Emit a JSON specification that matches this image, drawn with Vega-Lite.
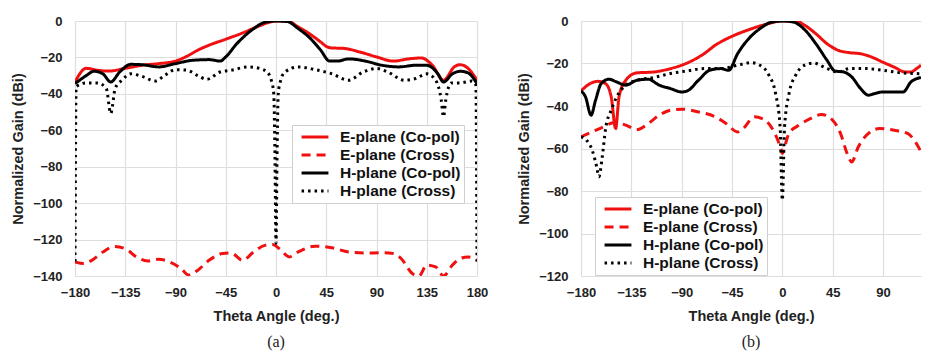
{
  "$schema": "https://vega.github.io/schema/vega-lite/v6.json",
  "padding": {"left": 10, "top": 15, "right": 5, "bottom": 5},
  "spacing": 28,
  "background": "white",
  "config": {
    "view": {"stroke": null},
    "font": "Liberation Sans",
    "axis": {
      "labelFont": "Liberation Sans", "labelFontWeight": "bold", "labelFontSize": 13, "labelColor": "#222",
      "titleFont": "Liberation Sans", "titleFontWeight": "bold", "titleFontSize": 14.5, "titleColor": "#222",
      "domain": false, "ticks": false, "tickSize": 0,
      "gridColor": "#dedede", "gridWidth": 1.2
    },
    "legend": {
      "orient": "none", "title": null,
      "symbolType": "M-1.9,0H1.9", "symbolStrokeWidth": 3.2, "symbolSize": 200, "symbolOffset": 11,
      "labelFont": "Liberation Sans", "labelFontWeight": "bold", "labelFontSize": 15.5, "labelColor": "#111",
      "fillColor": "white", "strokeColor": "#cfcfcf", "padding": 3, "rowPadding": -3, "labelOffset": 16
    },
    "title": {"font": "Liberation Serif", "fontSize": 16, "fontWeight": "normal", "color": "#222", "orient": "bottom", "offset": 11}
  },
  "resolve": {"legend": {"color": "independent", "strokeDash": "independent"}, "scale": {"x": "independent", "y": "independent"}},
  "datasets": {
    "a": [
      {"s":"E-plane (Co-pol)","t":-180,"g":-33.5},{"s":"E-plane (Co-pol)","t":-170,"g":-26},{"s":"E-plane (Co-pol)","t":-160,"g":-27},{"s":"E-plane (Co-pol)","t":-150,"g":-27.5},{"s":"E-plane (Co-pol)","t":-135,"g":-26},{"s":"E-plane (Co-pol)","t":-120,"g":-24.3},{"s":"E-plane (Co-pol)","t":-105,"g":-23.4},{"s":"E-plane (Co-pol)","t":-90,"g":-22},{"s":"E-plane (Co-pol)","t":-80,"g":-19.4},{"s":"E-plane (Co-pol)","t":-70,"g":-16},{"s":"E-plane (Co-pol)","t":-60,"g":-13.3},{"s":"E-plane (Co-pol)","t":-45,"g":-10},{"s":"E-plane (Co-pol)","t":-30,"g":-6.6},{"s":"E-plane (Co-pol)","t":-15,"g":-2.7},{"s":"E-plane (Co-pol)","t":-5,"g":-0.5},{"s":"E-plane (Co-pol)","t":0,"g":0},{"s":"E-plane (Co-pol)","t":10,"g":0},{"s":"E-plane (Co-pol)","t":20,"g":-3.3},{"s":"E-plane (Co-pol)","t":30,"g":-7},{"s":"E-plane (Co-pol)","t":40,"g":-11.5},{"s":"E-plane (Co-pol)","t":45,"g":-13.9},{"s":"E-plane (Co-pol)","t":50,"g":-14.8},{"s":"E-plane (Co-pol)","t":60,"g":-15},{"s":"E-plane (Co-pol)","t":75,"g":-17},{"s":"E-plane (Co-pol)","t":90,"g":-19.7},{"s":"E-plane (Co-pol)","t":105,"g":-22},{"s":"E-plane (Co-pol)","t":120,"g":-20.7},{"s":"E-plane (Co-pol)","t":130,"g":-20.3},{"s":"E-plane (Co-pol)","t":140,"g":-24.3},{"s":"E-plane (Co-pol)","t":150,"g":-32.5},{"s":"E-plane (Co-pol)","t":160,"g":-25},{"s":"E-plane (Co-pol)","t":165,"g":-24},{"s":"E-plane (Co-pol)","t":172,"g":-26},{"s":"E-plane (Co-pol)","t":180,"g":-32.5},
      {"s":"E-plane (Cross)","t":-180,"g":-132.3},{"s":"E-plane (Cross)","t":-172,"g":-133.2},{"s":"E-plane (Cross)","t":-165,"g":-131.4},{"s":"E-plane (Cross)","t":-155,"g":-126.8},{"s":"E-plane (Cross)","t":-145,"g":-123.8},{"s":"E-plane (Cross)","t":-135,"g":-125},{"s":"E-plane (Cross)","t":-125,"g":-129.5},{"s":"E-plane (Cross)","t":-115,"g":-131.7},{"s":"E-plane (Cross)","t":-105,"g":-130.8},{"s":"E-plane (Cross)","t":-95,"g":-132.3},{"s":"E-plane (Cross)","t":-85,"g":-135.9},{"s":"E-plane (Cross)","t":-78,"g":-139.5},{"s":"E-plane (Cross)","t":-70,"g":-136.8},{"s":"E-plane (Cross)","t":-60,"g":-131.4},{"s":"E-plane (Cross)","t":-48,"g":-127.7},{"s":"E-plane (Cross)","t":-40,"g":-127.4},{"s":"E-plane (Cross)","t":-30,"g":-131.4},{"s":"E-plane (Cross)","t":-20,"g":-126.8},{"s":"E-plane (Cross)","t":-10,"g":-123.2},{"s":"E-plane (Cross)","t":-3,"g":-122.7},{"s":"E-plane (Cross)","t":3,"g":-125},{"s":"E-plane (Cross)","t":12,"g":-129.5},{"s":"E-plane (Cross)","t":20,"g":-126.8},{"s":"E-plane (Cross)","t":35,"g":-123.6},{"s":"E-plane (Cross)","t":50,"g":-124.5},{"s":"E-plane (Cross)","t":65,"g":-126.8},{"s":"E-plane (Cross)","t":80,"g":-127.4},{"s":"E-plane (Cross)","t":95,"g":-127.2},{"s":"E-plane (Cross)","t":105,"g":-127.7},{"s":"E-plane (Cross)","t":112,"g":-130.4},{"s":"E-plane (Cross)","t":122,"g":-138.6},{"s":"E-plane (Cross)","t":128,"g":-140},{"s":"E-plane (Cross)","t":135,"g":-134},{"s":"E-plane (Cross)","t":143,"g":-135},{"s":"E-plane (Cross)","t":150,"g":-140},{"s":"E-plane (Cross)","t":158,"g":-134},{"s":"E-plane (Cross)","t":165,"g":-130.4},{"s":"E-plane (Cross)","t":172,"g":-129.5},{"s":"E-plane (Cross)","t":180,"g":-131.4},
      {"s":"H-plane (Co-pol)","t":-180,"g":-34.4},{"s":"H-plane (Co-pol)","t":-170,"g":-30},{"s":"H-plane (Co-pol)","t":-163,"g":-27.6},{"s":"H-plane (Co-pol)","t":-155,"g":-29},{"s":"H-plane (Co-pol)","t":-148,"g":-33.5},{"s":"H-plane (Co-pol)","t":-140,"g":-28},{"s":"H-plane (Co-pol)","t":-130,"g":-23.8},{"s":"H-plane (Co-pol)","t":-120,"g":-24},{"s":"H-plane (Co-pol)","t":-105,"g":-25.2},{"s":"H-plane (Co-pol)","t":-90,"g":-23.4},{"s":"H-plane (Co-pol)","t":-75,"g":-21.6},{"s":"H-plane (Co-pol)","t":-60,"g":-21.2},{"s":"H-plane (Co-pol)","t":-50,"g":-22},{"s":"H-plane (Co-pol)","t":-45,"g":-19.7},{"s":"H-plane (Co-pol)","t":-35,"g":-12.4},{"s":"H-plane (Co-pol)","t":-20,"g":-4.2},{"s":"H-plane (Co-pol)","t":-10,"g":-0.7},{"s":"H-plane (Co-pol)","t":0,"g":0},{"s":"H-plane (Co-pol)","t":10,"g":-0.3},{"s":"H-plane (Co-pol)","t":20,"g":-4.2},{"s":"H-plane (Co-pol)","t":30,"g":-9.1},{"s":"H-plane (Co-pol)","t":40,"g":-16},{"s":"H-plane (Co-pol)","t":48,"g":-22},{"s":"H-plane (Co-pol)","t":55,"g":-22},{"s":"H-plane (Co-pol)","t":65,"g":-20.8},{"s":"H-plane (Co-pol)","t":80,"g":-22},{"s":"H-plane (Co-pol)","t":95,"g":-24.3},{"s":"H-plane (Co-pol)","t":110,"g":-25.2},{"s":"H-plane (Co-pol)","t":125,"g":-24.3},{"s":"H-plane (Co-pol)","t":135,"g":-24.3},{"s":"H-plane (Co-pol)","t":145,"g":-29},{"s":"H-plane (Co-pol)","t":150,"g":-33.5},{"s":"H-plane (Co-pol)","t":158,"g":-29},{"s":"H-plane (Co-pol)","t":165,"g":-27.6},{"s":"H-plane (Co-pol)","t":172,"g":-28.5},{"s":"H-plane (Co-pol)","t":180,"g":-34.4},
      {"s":"H-plane (Cross)","t":-180,"g":-132},{"s":"H-plane (Cross)","t":-179,"g":-36},{"s":"H-plane (Cross)","t":-170,"g":-34},{"s":"H-plane (Cross)","t":-160,"g":-34},{"s":"H-plane (Cross)","t":-152,"g":-37},{"s":"H-plane (Cross)","t":-148,"g":-50.8},{"s":"H-plane (Cross)","t":-144,"g":-37},{"s":"H-plane (Cross)","t":-138,"g":-32.5},{"s":"H-plane (Cross)","t":-130,"g":-29},{"s":"H-plane (Cross)","t":-120,"g":-30.4},{"s":"H-plane (Cross)","t":-108,"g":-33},{"s":"H-plane (Cross)","t":-100,"g":-30},{"s":"H-plane (Cross)","t":-90,"g":-26.7},{"s":"H-plane (Cross)","t":-80,"g":-27},{"s":"H-plane (Cross)","t":-70,"g":-30},{"s":"H-plane (Cross)","t":-62,"g":-32},{"s":"H-plane (Cross)","t":-50,"g":-28},{"s":"H-plane (Cross)","t":-40,"g":-27},{"s":"H-plane (Cross)","t":-25,"g":-25.2},{"s":"H-plane (Cross)","t":-15,"g":-26},{"s":"H-plane (Cross)","t":-8,"g":-28},{"s":"H-plane (Cross)","t":-4,"g":-33},{"s":"H-plane (Cross)","t":-2,"g":-40},{"s":"H-plane (Cross)","t":-1,"g":-70},{"s":"H-plane (Cross)","t":0,"g":-122},{"s":"H-plane (Cross)","t":1,"g":-70},{"s":"H-plane (Cross)","t":2,"g":-40},{"s":"H-plane (Cross)","t":4,"g":-33},{"s":"H-plane (Cross)","t":8,"g":-28},{"s":"H-plane (Cross)","t":20,"g":-25.2},{"s":"H-plane (Cross)","t":35,"g":-26.7},{"s":"H-plane (Cross)","t":50,"g":-29},{"s":"H-plane (Cross)","t":65,"g":-32.5},{"s":"H-plane (Cross)","t":78,"g":-28},{"s":"H-plane (Cross)","t":90,"g":-26.1},{"s":"H-plane (Cross)","t":100,"g":-28},{"s":"H-plane (Cross)","t":115,"g":-32.5},{"s":"H-plane (Cross)","t":125,"g":-31.6},{"s":"H-plane (Cross)","t":135,"g":-29},{"s":"H-plane (Cross)","t":143,"g":-32.5},{"s":"H-plane (Cross)","t":148,"g":-43.5},{"s":"H-plane (Cross)","t":150,"g":-52.6},{"s":"H-plane (Cross)","t":152,"g":-43.5},{"s":"H-plane (Cross)","t":157,"g":-34},{"s":"H-plane (Cross)","t":165,"g":-34},{"s":"H-plane (Cross)","t":175,"g":-33},{"s":"H-plane (Cross)","t":179,"g":-35},{"s":"H-plane (Cross)","t":180,"g":-132}
    ],
    "b": [
      {"s":"E-plane (Co-pol)","t":-180,"g":-32.9},{"s":"E-plane (Co-pol)","t":-172,"g":-29.5},{"s":"E-plane (Co-pol)","t":-165,"g":-28.4},{"s":"E-plane (Co-pol)","t":-158,"g":-29.5},{"s":"E-plane (Co-pol)","t":-153,"g":-35.7},{"s":"E-plane (Co-pol)","t":-149,"g":-50.6},{"s":"E-plane (Co-pol)","t":-146,"g":-35.7},{"s":"E-plane (Co-pol)","t":-140,"g":-27.9},{"s":"E-plane (Co-pol)","t":-130,"g":-24.4},{"s":"E-plane (Co-pol)","t":-115,"g":-24},{"s":"E-plane (Co-pol)","t":-100,"g":-22.4},{"s":"E-plane (Co-pol)","t":-90,"g":-20.8},{"s":"E-plane (Co-pol)","t":-80,"g":-18.5},{"s":"E-plane (Co-pol)","t":-70,"g":-15.4},{"s":"E-plane (Co-pol)","t":-60,"g":-11.4},{"s":"E-plane (Co-pol)","t":-45,"g":-7.2},{"s":"E-plane (Co-pol)","t":-30,"g":-4.1},{"s":"E-plane (Co-pol)","t":-15,"g":-1.6},{"s":"E-plane (Co-pol)","t":0,"g":0},{"s":"E-plane (Co-pol)","t":12,"g":0},{"s":"E-plane (Co-pol)","t":20,"g":-2},{"s":"E-plane (Co-pol)","t":30,"g":-6},{"s":"E-plane (Co-pol)","t":40,"g":-10.7},{"s":"E-plane (Co-pol)","t":50,"g":-13.8},{"s":"E-plane (Co-pol)","t":60,"g":-14.9},{"s":"E-plane (Co-pol)","t":70,"g":-15.4},{"s":"E-plane (Co-pol)","t":80,"g":-17},{"s":"E-plane (Co-pol)","t":90,"g":-19.4},{"s":"E-plane (Co-pol)","t":100,"g":-21.7},{"s":"E-plane (Co-pol)","t":110,"g":-24},{"s":"E-plane (Co-pol)","t":115,"g":-24},{"s":"E-plane (Co-pol)","t":120,"g":-22.4},{"s":"E-plane (Co-pol)","t":124,"g":-20.8},
      {"s":"E-plane (Cross)","t":-180,"g":-54.5},{"s":"E-plane (Cross)","t":-170,"g":-52.2},{"s":"E-plane (Cross)","t":-160,"g":-49.8},{"s":"E-plane (Cross)","t":-150,"g":-47.8},{"s":"E-plane (Cross)","t":-140,"g":-49},{"s":"E-plane (Cross)","t":-130,"g":-51.1},{"s":"E-plane (Cross)","t":-120,"g":-48.3},{"s":"E-plane (Cross)","t":-110,"g":-44.3},{"s":"E-plane (Cross)","t":-100,"g":-42},{"s":"E-plane (Cross)","t":-90,"g":-41.5},{"s":"E-plane (Cross)","t":-75,"g":-42.8},{"s":"E-plane (Cross)","t":-60,"g":-45.1},{"s":"E-plane (Cross)","t":-50,"g":-48.3},{"s":"E-plane (Cross)","t":-40,"g":-52.2},{"s":"E-plane (Cross)","t":-35,"g":-50.6},{"s":"E-plane (Cross)","t":-25,"g":-45.1},{"s":"E-plane (Cross)","t":-18,"g":-45.9},{"s":"E-plane (Cross)","t":-10,"g":-49.8},{"s":"E-plane (Cross)","t":-4,"g":-56.1},{"s":"E-plane (Cross)","t":-1,"g":-60.8},{"s":"E-plane (Cross)","t":0,"g":-62.4},{"s":"E-plane (Cross)","t":2,"g":-59.2},{"s":"E-plane (Cross)","t":6,"g":-52.9},{"s":"E-plane (Cross)","t":15,"g":-49},{"s":"E-plane (Cross)","t":25,"g":-45.9},{"s":"E-plane (Cross)","t":35,"g":-44},{"s":"E-plane (Cross)","t":45,"g":-46.7},{"s":"E-plane (Cross)","t":52,"g":-52.9},{"s":"E-plane (Cross)","t":58,"g":-62.4},{"s":"E-plane (Cross)","t":62,"g":-66.3},{"s":"E-plane (Cross)","t":68,"g":-59.2},{"s":"E-plane (Cross)","t":77,"g":-52.9},{"s":"E-plane (Cross)","t":87,"g":-50.6},{"s":"E-plane (Cross)","t":100,"g":-51.4},{"s":"E-plane (Cross)","t":112,"g":-52.9},{"s":"E-plane (Cross)","t":118,"g":-56.1},{"s":"E-plane (Cross)","t":124,"g":-61.6},
      {"s":"H-plane (Co-pol)","t":-180,"g":-32.9},{"s":"H-plane (Co-pol)","t":-176,"g":-35.7},{"s":"H-plane (Co-pol)","t":-171,"g":-44.3},{"s":"H-plane (Co-pol)","t":-167,"g":-37.3},{"s":"H-plane (Co-pol)","t":-162,"g":-29.5},{"s":"H-plane (Co-pol)","t":-155,"g":-27.4},{"s":"H-plane (Co-pol)","t":-148,"g":-28.7},{"s":"H-plane (Co-pol)","t":-140,"g":-30.2},{"s":"H-plane (Co-pol)","t":-130,"g":-27.9},{"s":"H-plane (Co-pol)","t":-120,"g":-27.4},{"s":"H-plane (Co-pol)","t":-110,"g":-30.2},{"s":"H-plane (Co-pol)","t":-100,"g":-31.8},{"s":"H-plane (Co-pol)","t":-90,"g":-33.4},{"s":"H-plane (Co-pol)","t":-85,"g":-32.9},{"s":"H-plane (Co-pol)","t":-75,"g":-27.9},{"s":"H-plane (Co-pol)","t":-65,"g":-23.2},{"s":"H-plane (Co-pol)","t":-55,"g":-22.4},{"s":"H-plane (Co-pol)","t":-48,"g":-23.2},{"s":"H-plane (Co-pol)","t":-40,"g":-15.4},{"s":"H-plane (Co-pol)","t":-30,"g":-8.3},{"s":"H-plane (Co-pol)","t":-20,"g":-3.6},{"s":"H-plane (Co-pol)","t":-10,"g":-0.6},{"s":"H-plane (Co-pol)","t":0,"g":0},{"s":"H-plane (Co-pol)","t":10,"g":-0.5},{"s":"H-plane (Co-pol)","t":20,"g":-4.1},{"s":"H-plane (Co-pol)","t":30,"g":-10.7},{"s":"H-plane (Co-pol)","t":40,"g":-18.5},{"s":"H-plane (Co-pol)","t":47,"g":-23.5},{"s":"H-plane (Co-pol)","t":55,"g":-24},{"s":"H-plane (Co-pol)","t":62,"g":-26.3},{"s":"H-plane (Co-pol)","t":70,"g":-31.8},{"s":"H-plane (Co-pol)","t":77,"g":-34.9},{"s":"H-plane (Co-pol)","t":82,"g":-34.2},{"s":"H-plane (Co-pol)","t":90,"g":-33.4},{"s":"H-plane (Co-pol)","t":100,"g":-33.4},{"s":"H-plane (Co-pol)","t":108,"g":-33.4},{"s":"H-plane (Co-pol)","t":115,"g":-28.7},{"s":"H-plane (Co-pol)","t":124,"g":-26.6},
      {"s":"H-plane (Cross)","t":-180,"g":-54.5},{"s":"H-plane (Cross)","t":-175,"g":-56.1},{"s":"H-plane (Cross)","t":-170,"g":-60.8},{"s":"H-plane (Cross)","t":-166,"g":-68.6},{"s":"H-plane (Cross)","t":-164,"g":-73.3},{"s":"H-plane (Cross)","t":-161,"g":-63.9},{"s":"H-plane (Cross)","t":-158,"g":-50.6},{"s":"H-plane (Cross)","t":-153,"g":-42},{"s":"H-plane (Cross)","t":-148,"g":-35.7},{"s":"H-plane (Cross)","t":-140,"g":-30.2},{"s":"H-plane (Cross)","t":-130,"g":-27.9},{"s":"H-plane (Cross)","t":-115,"g":-26.6},{"s":"H-plane (Cross)","t":-100,"g":-24.7},{"s":"H-plane (Cross)","t":-85,"g":-23.5},{"s":"H-plane (Cross)","t":-70,"g":-22.4},{"s":"H-plane (Cross)","t":-55,"g":-22.4},{"s":"H-plane (Cross)","t":-40,"g":-20.8},{"s":"H-plane (Cross)","t":-28,"g":-19.6},{"s":"H-plane (Cross)","t":-20,"g":-20.8},{"s":"H-plane (Cross)","t":-12,"g":-25.5},{"s":"H-plane (Cross)","t":-6,"g":-34.2},{"s":"H-plane (Cross)","t":-2,"g":-49.8},{"s":"H-plane (Cross)","t":0,"g":-84.3},{"s":"H-plane (Cross)","t":2,"g":-49.8},{"s":"H-plane (Cross)","t":6,"g":-34.2},{"s":"H-plane (Cross)","t":12,"g":-25.5},{"s":"H-plane (Cross)","t":20,"g":-20.8},{"s":"H-plane (Cross)","t":28,"g":-19.8},{"s":"H-plane (Cross)","t":40,"g":-22.4},{"s":"H-plane (Cross)","t":50,"g":-24},{"s":"H-plane (Cross)","t":60,"g":-22.4},{"s":"H-plane (Cross)","t":75,"g":-22.4},{"s":"H-plane (Cross)","t":90,"g":-23.2},{"s":"H-plane (Cross)","t":105,"g":-24.3},{"s":"H-plane (Cross)","t":124,"g":-24.8}
    ]
  },
  "hconcat": [
    {
      "data": {"name": "a"},
      "width": 402, "height": 255,
      "title": {"text": "(a)"},
      "mark": {"type": "line", "strokeWidth": 3, "interpolate": "monotone", "clip": true},
      "encoding": {
        "x": {"field": "t", "type": "quantitative", "title": "Theta Angle (deg.)",
              "scale": {"domain": [-180, 180], "nice": false, "zero": false},
              "axis": {"values": [-180, -135, -90, -45, 0, 45, 90, 135, 180], "labelPadding": 10, "titlePadding": 10, "labelFlush": false}},
        "y": {"field": "g", "type": "quantitative", "title": "Normalized Gain (dBi)",
              "scale": {"domain": [-140, 0], "nice": false, "zero": false},
              "axis": {"values": [0, -20, -40, -60, -80, -100, -120, -140], "labelPadding": 13, "titlePadding": 7}},
        "color": {"field": "s", "type": "nominal",
                  "scale": {"domain": ["E-plane (Co-pol)", "E-plane (Cross)", "H-plane (Co-pol)", "H-plane (Cross)"], "range": ["#f01010", "#f01010", "#000000", "#000000"]},
                  "legend": {"legendX": 217, "legendY": 104}},
        "strokeDash": {"field": "s", "type": "nominal",
                  "scale": {"domain": ["E-plane (Co-pol)", "E-plane (Cross)", "H-plane (Co-pol)", "H-plane (Cross)"], "range": [[1, 0], [9, 6], [1, 0], [2.5, 4]]},
                  "legend": {"legendX": 217, "legendY": 104}}
      }
    },
    {
      "data": {"name": "b"},
      "width": 340, "height": 255,
      "title": {"text": "(b)"},
      "mark": {"type": "line", "strokeWidth": 3, "interpolate": "monotone", "clip": true},
      "encoding": {
        "x": {"field": "t", "type": "quantitative", "title": "Theta Angle (deg.)",
              "scale": {"domain": [-180, 124], "nice": false, "zero": false},
              "axis": {"values": [-180, -135, -90, -45, 0, 45, 90], "labelPadding": 10, "titlePadding": 10, "labelFlush": false}},
        "y": {"field": "g", "type": "quantitative", "title": "Normalized Gain (dBi)",
              "scale": {"domain": [-120, 0], "nice": false, "zero": false},
              "axis": {"values": [0, -20, -40, -60, -80, -100, -120], "labelPadding": 13, "titlePadding": 7}},
        "color": {"field": "s", "type": "nominal",
                  "scale": {"domain": ["E-plane (Co-pol)", "E-plane (Cross)", "H-plane (Co-pol)", "H-plane (Cross)"], "range": ["#f01010", "#f01010", "#000000", "#000000"]},
                  "legend": {"legendX": 14, "legendY": 176}},
        "strokeDash": {"field": "s", "type": "nominal",
                  "scale": {"domain": ["E-plane (Co-pol)", "E-plane (Cross)", "H-plane (Co-pol)", "H-plane (Cross)"], "range": [[1, 0], [9, 6], [1, 0], [2.5, 4]]},
                  "legend": {"legendX": 14, "legendY": 176}}
      }
    }
  ]
}
